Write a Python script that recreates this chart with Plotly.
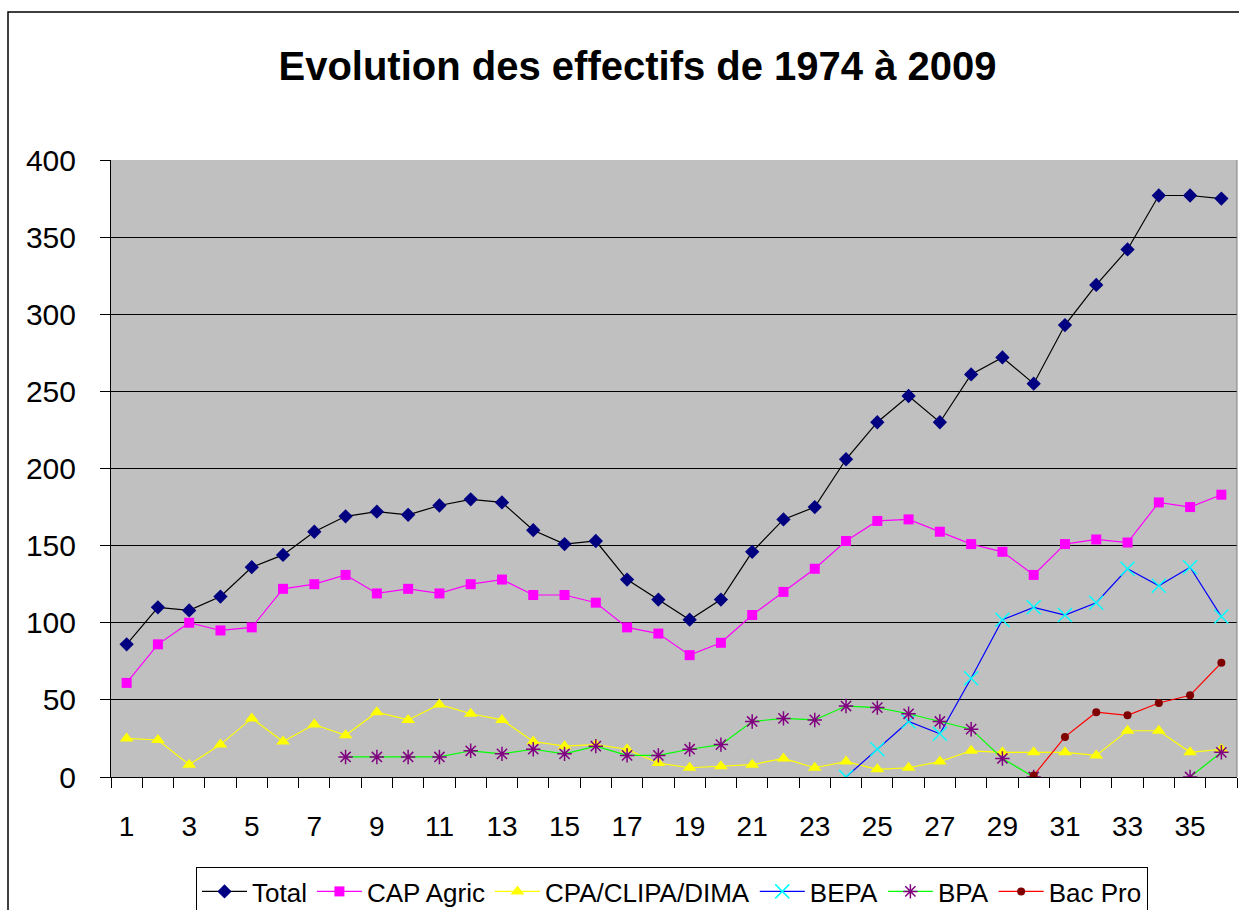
import plotly.graph_objects as go

# ---- data ----
years_idx = list(range(1, 37))
total = [86, 110, 108, 117, 136, 144, 159, 169, 172, 170, 176, 180, 178, 160, 151, 153, 128, 115,
         102, 115, 146, 167, 175, 206, 230, 247, 230, 261, 272, 255, 293, 319, 342, 377, 377, 375]
cap_agric = [61, 86, 100, 95, 97, 122, 125, 131, 119, 122, 119, 125, 128, 118, 118, 113, 97, 93,
             79, 87, 105, 120, 135, 153, 166, 167, 159, 151, 146, 131, 151, 154, 152, 178, 175, 183]
cpa_clipa_dima = [25, 24, 8, 21, 38, 23, 34, 27, 42, 37, 47, 41, 37, 23, 20, 21, 18, 9,
                  6, 7, 8, 12, 6, 10, 5, 6, 10, 17, 16, 16, 16, 14, 30, 30, 16, 18]
bepa = [None] * 23 + [0, 18, 36, 28, 64, 102, 110, 105, 113, 135, 124, 136, 104]
bpa = [None] * 7 + [13, 13, 13, 13, 17, 15, 18, 15, 20, 14, 14, 18, 21, 36, 38, 37, 46, 45, 41,
                    36, 31, 12, 0, None, None, None, None, 0, 16]
bac_pro = [None] * 29 + [1, 26, 42, 40, 48, 53, 74]

x_labels = list(range(1, 37, 2))
title_text = "Evolution des effectifs de 1974 à 2009"

FONT = "Liberation Sans, Arial, sans-serif"

fig = go.Figure()

def add(name, y, line_color, sym, mcolor, msize, mline=None):
    marker = dict(symbol=sym, size=msize, color=mcolor)
    if mline:
        marker["line"] = dict(color=mline, width=1.5)
    else:
        marker["line"] = dict(width=0)
    fig.add_trace(go.Scatter(x=years_idx, y=y, name=name, mode="lines+markers",
                             line=dict(color=line_color, width=1.2), marker=marker))

add("Total", total, "#000000", "diamond", "#000080", 11)
add("CAP Agric", cap_agric, "#FF00FF", "square", "#FF00FF", 10)
add("CPA/CLIPA/DIMA", cpa_clipa_dima, "#FFFF00", "triangle-up", "#FFFF00", 12)
add("BEPA", bepa, "#0000FF", "x-thin-open", "#00FFFF", 14, "#00FFFF")
add("BPA", bpa, "#00FF00", "asterisk-open", "#800080", 12, "#800080")
add("Bac Pro", bac_pro, "#FF0000", "circle", "#800000", 8)

W, H = 1239, 910
L, R, T, B = 111, 2, 160, 133
pw = W - L - R
ph = H - T - B

def px_x(p):
    return (p - L) / pw

def px_y(p):
    return (H - B - p) / ph

boundaries = [i + 0.5 for i in range(0, 37)]

fig.update_layout(
    width=W, height=H,
    margin=dict(l=L, r=R, t=T, b=B, autoexpand=False),
    paper_bgcolor="white",
    plot_bgcolor="#C0C0C0",
    font=dict(family=FONT, color="black"),
    title=dict(text=title_text, font=dict(family=FONT, size=40, color="black", weight="bold"),
               x=637.5 / W, xref="container", xanchor="center",
               y=1 - 66 / H, yref="container", yanchor="middle"),
    showlegend=True,
    legend=dict(orientation="h", x=px_x(196), xanchor="left", y=px_y(867), yanchor="top",
                bordercolor="black", borderwidth=1, bgcolor="white", itemwidth=45,
                font=dict(family=FONT, size=26, color="black")),
    xaxis=dict(range=[0.5, 36.5], tickmode="array", tickvals=x_labels,
               ticktext=[str(v) for v in x_labels], ticks="", showgrid=False, zeroline=False,
               showline=True, linecolor="black", linewidth=1,
               tickfont=dict(family=FONT, size=28, color="black"), ticklabelstandoff=24,
               minor=dict(tickmode="array", tickvals=boundaries, ticks="outside", ticklen=10,
                          tickcolor="black", tickwidth=1, showgrid=False)),
    yaxis=dict(range=[0, 400], tickmode="linear", tick0=0, dtick=50, showgrid=True,
               gridcolor="black", gridwidth=1, zeroline=False, showline=True,
               linecolor="black", linewidth=1, ticks="outside", ticklen=10, tickcolor="black",
               tickfont=dict(family=FONT, size=30, color="black"), ticklabelstandoff=18),
    shapes=[
        dict(type="line", xref="paper", yref="paper", x0=1, x1=1, y0=0, y1=1,
             line=dict(color="#808080", width=1)),
        dict(type="rect", xref="paper", yref="paper", x0=px_x(8), x1=px_x(1300),
             y0=px_y(1000), y1=px_y(12), line=dict(color="black", width=1.5),
             fillcolor="rgba(0,0,0,0)", layer="below"),
    ],
)

fig.write_html("out.html",
               config={"displayModeBar": False},
               post_script="document.body.style.margin='0px';"
                           "document.documentElement.style.overflow='hidden';")
